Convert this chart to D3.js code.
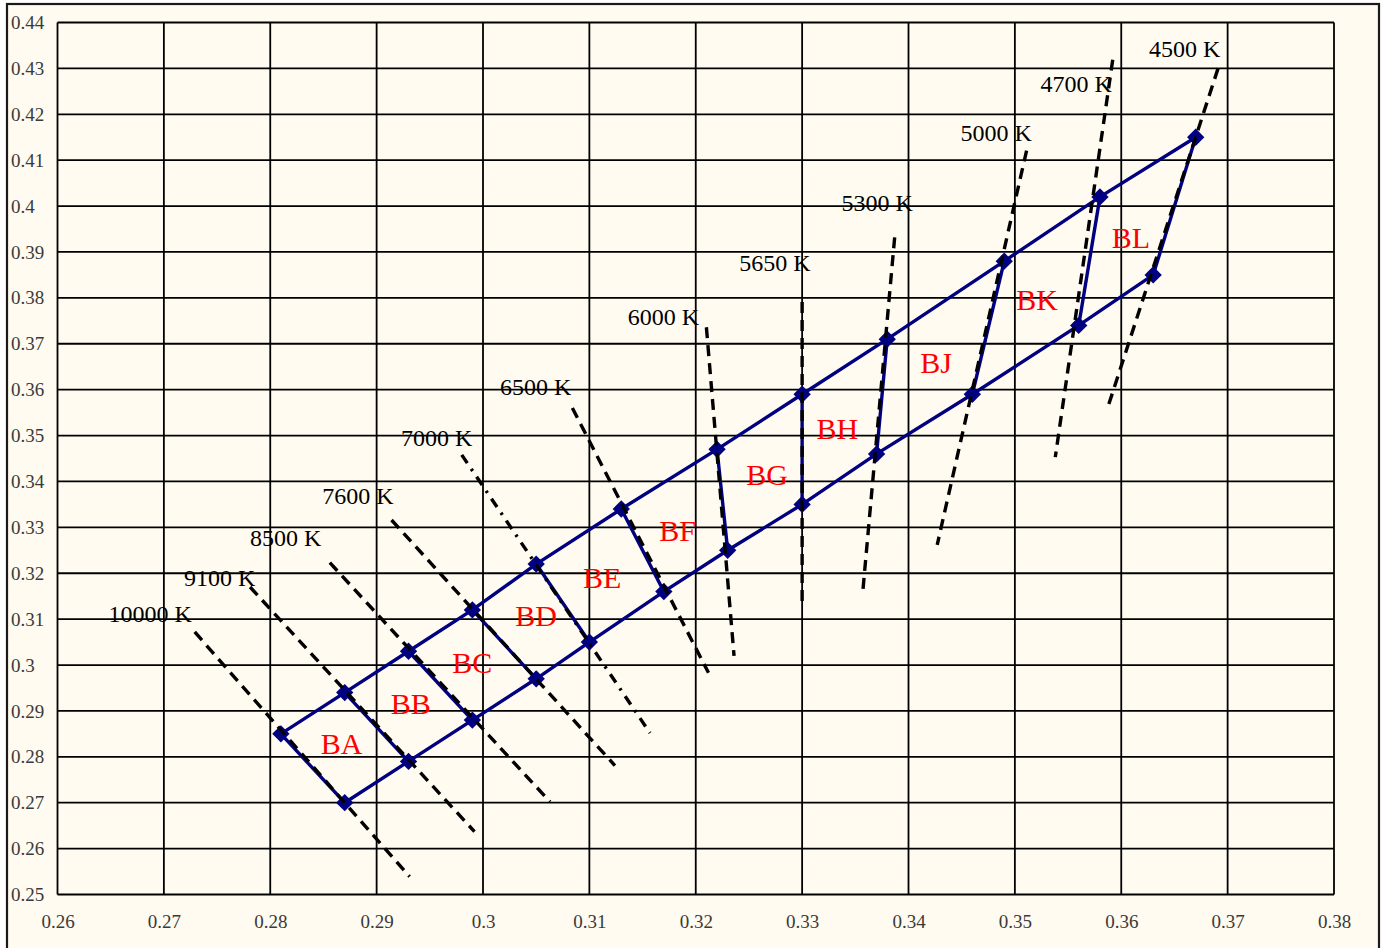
<!DOCTYPE html>
<html>
<head>
<meta charset="utf-8">
<script src="https://cdn.jsdelivr.net/npm/d3@7"></script>
<style>
  html, body { margin: 0; padding: 0; background: #ffffff; }
  svg { display: block; }
</style>
</head>
<body>
<script>
// ---------- DATA ----------
const xTicks = [0.26, 0.27, 0.28, 0.29, 0.30, 0.31, 0.32, 0.33, 0.34, 0.35, 0.36, 0.37, 0.38];
const xTickLabels = ["0.26", "0.27", "0.28", "0.29", "0.3", "0.31", "0.32", "0.33", "0.34", "0.35", "0.36", "0.37", "0.38"];
const yTicks = [0.25, 0.26, 0.27, 0.28, 0.29, 0.30, 0.31, 0.32, 0.33, 0.34, 0.35, 0.36, 0.37, 0.38, 0.39, 0.40, 0.41, 0.42, 0.43, 0.44];
const yTickLabels = ["0.25", "0.26", "0.27", "0.28", "0.29", "0.3", "0.31", "0.32", "0.33", "0.34", "0.35", "0.36", "0.37", "0.38", "0.39", "0.4", "0.41", "0.42", "0.43", "0.44"];

// bin corner points (upper edge and lower edge of the band)
const upperX = [0.281, 0.287, 0.293, 0.299, 0.305, 0.313, 0.322, 0.330, 0.338, 0.349, 0.358, 0.367];
const upperY = [0.285, 0.294, 0.303, 0.312, 0.322, 0.334, 0.347, 0.359, 0.371, 0.388, 0.402, 0.415];
const lowerX = [0.287, 0.293, 0.299, 0.305, 0.310, 0.317, 0.323, 0.330, 0.337, 0.346, 0.356, 0.363];
const lowerY = [0.270, 0.279, 0.288, 0.297, 0.305, 0.316, 0.325, 0.335, 0.346, 0.359, 0.374, 0.385];

// bin names and label centres
const binNames = ["BA", "BB", "BC", "BD", "BE", "BF", "BG", "BH", "BJ", "BK", "BL"];
const binLabelX = [0.2867, 0.2932, 0.2990, 0.3050, 0.3112, 0.3183, 0.3267, 0.3333, 0.3426, 0.3521, 0.3609];
const binLabelY = [0.2829, 0.2916, 0.3005, 0.3108, 0.3191, 0.3294, 0.3416, 0.3516, 0.3660, 0.3797, 0.3932];

// isotherm (CCT) lines
const cctNames = ["10000 K", "9100 K", "8500 K", "7600 K", "7000 K", "6500 K", "6000 K", "5650 K", "5300 K", "5000 K", "4700 K", "4500 K"];
const cctX1 = [0.2729, 0.2781, 0.2856, 0.2914, 0.2980, 0.3084, 0.3210, 0.3300, 0.3387, 0.3511, 0.3592, 0.3691];
const cctY1 = [0.3072, 0.3170, 0.3223, 0.3316, 0.3458, 0.3560, 0.3736, 0.3791, 0.3932, 0.4121, 0.4319, 0.4300];
const cctX2 = [0.2931, 0.2992, 0.3063, 0.3124, 0.3157, 0.3212, 0.3236, 0.3300, 0.3357, 0.3427, 0.3538, 0.3587];
const cctY2 = [0.2539, 0.2637, 0.2702, 0.2781, 0.2852, 0.2983, 0.3020, 0.3125, 0.3159, 0.3262, 0.3453, 0.3559];
const cctStyle = ["dash", "dash", "dash", "dash", "dashdot", "dash", "dash", "dash", "dash", "dash", "dash", "dash"];
const cctLabelX = [0.2648, 0.2719, 0.2781, 0.2849, 0.2923, 0.3016, 0.3136, 0.3241, 0.3337, 0.3449, 0.3524, 0.3626];
const cctLabelY = [0.3094, 0.3173, 0.3260, 0.3351, 0.3477, 0.3588, 0.3741, 0.3858, 0.3989, 0.4141, 0.4248, 0.4324];

// ---------- DRAW ----------
const W = 1384, H = 948;
const plotL = 57.5, plotR = 1334, plotT = 22.5, plotB = 894.5;

const svg = d3.select("body").append("svg").attr("width", W).attr("height", H);

svg.append("rect").attr("x", 0).attr("y", 0).attr("width", W).attr("height", H).attr("fill", "#ffffff");
svg.append("rect").attr("x", 7).attr("y", 4).attr("width", 1372).attr("height", 960)
  .attr("fill", "#FFFBF0").attr("stroke", "#1a1a1a").attr("stroke-width", 2.2);

const x = d3.scaleLinear().domain([0.26, 0.38]).range([plotL, plotR]);
const y = d3.scaleLinear().domain([0.25, 0.44]).range([plotB, plotT]);

// grid
const grid = svg.append("g");
grid.selectAll("line.v").data(xTicks).enter().append("line")
  .attr("x1", d => x(d)).attr("x2", d => x(d)).attr("y1", plotT).attr("y2", plotB)
  .attr("stroke", "#000").attr("stroke-width", 1.8);
grid.selectAll("line.h").data(yTicks).enter().append("line")
  .attr("y1", d => y(d)).attr("y2", d => y(d)).attr("x1", plotL).attr("x2", plotR)
  .attr("stroke", "#000").attr("stroke-width", 1.8);

// axes labels
const xAxis = d3.axisBottom(x).tickValues(xTicks).tickSize(0).tickPadding(0)
  .tickFormat((d, i) => xTickLabels[i]);
const gx = svg.append("g").attr("transform", `translate(0,${plotB})`).call(xAxis);
gx.select(".domain").remove();
gx.selectAll("text").attr("dy", null).attr("y", 33)
  .style("font-family", "'Liberation Serif', serif").style("font-size", "19px").attr("fill", "#3a3a3a");

const yAxis = d3.axisLeft(y).tickValues(yTicks).tickSize(0).tickPadding(0)
  .tickFormat((d, i) => yTickLabels[i]);
const gy = svg.append("g").attr("transform", `translate(11,0)`).call(yAxis);
gy.select(".domain").remove();
gy.selectAll("text").attr("text-anchor", "start").attr("x", 0).attr("dy", "0.32em")
  .style("font-family", "'Liberation Serif', serif").style("font-size", "19px").attr("fill", "#3a3a3a");

// band outline
const upperPts = upperX.map((v, i) => [x(v), y(upperY[i])]);
const lowerPts = lowerX.map((v, i) => [x(v), y(lowerY[i])]);
const line = d3.line();
const band = svg.append("g");
band.append("path").attr("d", line(upperPts)).attr("fill", "none").attr("stroke", "#000080").attr("stroke-width", 3.4);
band.append("path").attr("d", line(lowerPts)).attr("fill", "none").attr("stroke", "#000080").attr("stroke-width", 3.4);
band.selectAll("line.cross").data(upperX).enter().append("line")
  .attr("x1", (d, i) => x(upperX[i])).attr("y1", (d, i) => y(upperY[i]))
  .attr("x2", (d, i) => x(lowerX[i])).attr("y2", (d, i) => y(lowerY[i]))
  .attr("stroke", "#000080").attr("stroke-width", 3.4);

// markers
const allPts = upperPts.concat(lowerPts);
svg.append("g").selectAll("path").data(allPts).enter().append("path")
  .attr("d", d3.symbol().type(d3.symbolSquare).size(150)())
  .attr("transform", d => `translate(${d[0]},${d[1]}) rotate(45)`)
  .attr("fill", "#000080");

// isotherm lines
const cct = svg.append("g");
cct.selectAll("line").data(cctNames).enter().append("line")
  .attr("x1", (d, i) => x(cctX1[i])).attr("y1", (d, i) => y(cctY1[i]))
  .attr("x2", (d, i) => x(cctX2[i])).attr("y2", (d, i) => y(cctY2[i]))
  .attr("stroke", "#000").attr("stroke-width", 3.4)
  .attr("stroke-dasharray", (d, i) => cctStyle[i] === "dashdot" ? "10,7,2.5,7" : "11,7");

cct.selectAll("text").data(cctNames).enter().append("text")
  .attr("x", (d, i) => x(cctLabelX[i])).attr("y", (d, i) => y(cctLabelY[i]))
  .style("font-family", "'Liberation Serif', serif").style("font-size", "24px")
  .attr("fill", "#000").text(d => d);

// bin labels
svg.append("g").selectAll("text").data(binNames).enter().append("text")
  .attr("x", (d, i) => x(binLabelX[i])).attr("y", (d, i) => y(binLabelY[i]))
  .attr("text-anchor", "middle").attr("dy", "0.35em")
  .style("font-family", "'Liberation Serif', serif").style("font-size", "30px")
  .attr("fill", "#ff0000").text(d => d);
</script>
</body>
</html>
